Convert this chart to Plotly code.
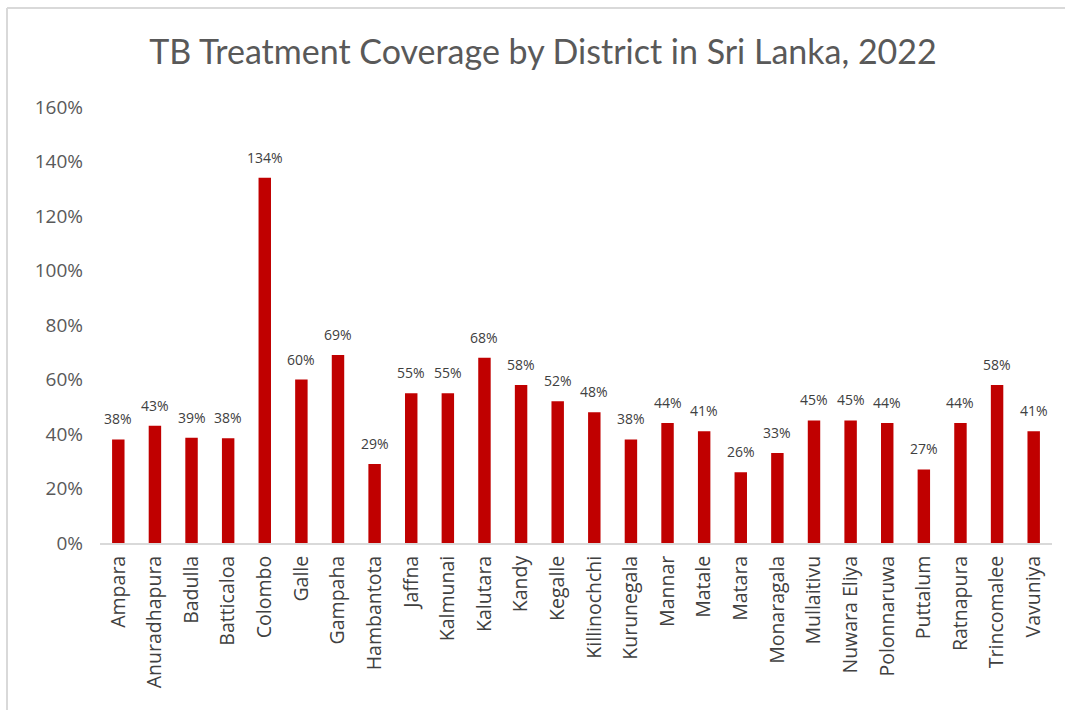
import plotly.graph_objects as go

districts = ["Ampara", "Anuradhapura", "Badulla", "Batticaloa", "Colombo", "Galle", "Gampaha",
             "Hambantota", "Jaffna", "Kalmunai", "Kalutara", "Kandy", "Kegalle", "Killinochchi",
             "Kurunegala", "Mannar", "Matale", "Matara", "Monaragala", "Mullaitivu", "Nuwara Eliya",
             "Polonnaruwa", "Puttalum", "Ratnapura", "Trincomalee", "Vavuniya"]
coverage = [0.38, 0.43, 0.386, 0.384, 1.34, 0.60, 0.69, 0.29, 0.55, 0.55, 0.68, 0.58, 0.52, 0.48,
            0.38, 0.44, 0.41, 0.26, 0.33, 0.45, 0.45, 0.44, 0.27, 0.44, 0.58, 0.41]
y_ticks = [0, 0.2, 0.4, 0.6, 0.8, 1.0, 1.2, 1.4, 1.6]

W, H = 1065, 710
L, R, T, B = 100, 13, 107, 167
pw, ph = W - L - R, H - T - B

fig = go.Figure(go.Bar(
    x=districts, y=coverage,
    marker=dict(color="#C00000", line=dict(width=0)),
    hoverinfo="skip",
))

for d, v in zip(districts, coverage):
    fig.add_annotation(x=d, y=v, text=f"{v:.0%}", showarrow=False, yanchor="bottom",
                       yshift=9, font=dict(family="Open Sans", size=14, color="#404040"))

def px_x(p):
    return (p - L) / pw

def px_y(p):
    return (H - B - p) / ph

fig.update_layout(
    width=W, height=H,
    margin=dict(l=L, r=R, t=T, b=B, autoexpand=False),
    paper_bgcolor="white", plot_bgcolor="white",
    bargap=0.66,
    showlegend=False,
    title=dict(text="TB Treatment Coverage by District in Sri Lanka, 2022",
               x=543 / W, xref="container", xanchor="center", y=1 - 52 / H, yanchor="middle",
               font=dict(family="Lato", size=34, color="#595959")),
    xaxis=dict(tickangle=-90, showgrid=False, showline=True, linecolor="#D9D9D9", linewidth=2,
               ticks="", ticklabelstandoff=3, automargin=False,
               tickfont=dict(family="Open Sans", size=19.5, color="#404040")),
    yaxis=dict(range=[0, 1.6], tickvals=y_ticks, tickformat=".0%", showgrid=False,
               zeroline=False, showline=False, ticks="", ticklabelstandoff=16, automargin=False,
               tickfont=dict(family="Open Sans", size=19, color="#595959")),
    shapes=[
        dict(type="line", xref="paper", yref="paper", x0=px_x(7), x1=px_x(W), y0=px_y(8), y1=px_y(8),
             line=dict(color="#D9D9D9", width=2)),
        dict(type="line", xref="paper", yref="paper", x0=px_x(7), x1=px_x(7), y0=px_y(8), y1=px_y(H),
             line=dict(color="#D9D9D9", width=2)),
    ],
)

fig.write_html("out.html", config={"displayModeBar": False},
               post_script="document.body.style.margin='0';")
